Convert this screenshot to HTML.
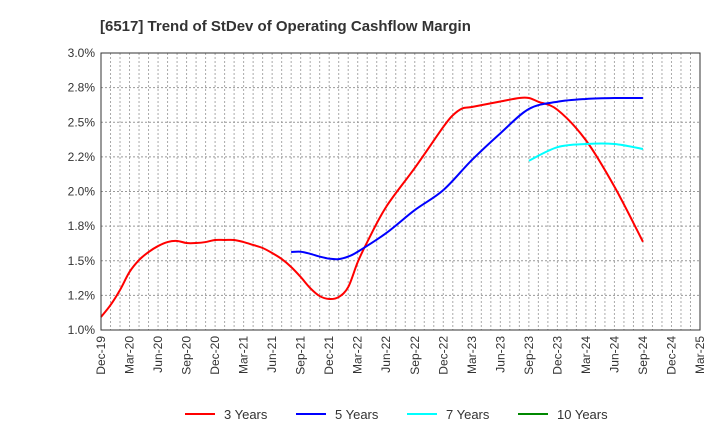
<!DOCTYPE html>
<html><head><meta charset="utf-8"><style>
body{margin:0;background:#fff;font-family:"Liberation Sans",Arial,sans-serif}
</style></head><body>
<svg id="c" width="720" height="440" xmlns="http://www.w3.org/2000/svg">
<text x="100" y="31" font-size="15" font-weight="bold" fill="#333">[6517]  Trend of StDev of Operating Cashflow Margin</text>
<g id="grid"></g><g id="series"></g><g id="axes"></g><g id="legend"></g>
</svg>
<script>
const yTicks=[1.0,1.25,1.5,1.75,2.0,2.25,2.5,2.75,3.0];
const yTickLabels=["1.0%","1.2%","1.5%","1.8%","2.0%","2.2%","2.5%","2.8%","3.0%"];
const xTickLabels=["Dec-19","Mar-20","Jun-20","Sep-20","Dec-20","Mar-21","Jun-21","Sep-21","Dec-21","Mar-22","Jun-22","Sep-22","Dec-22","Mar-23","Jun-23","Sep-23","Dec-23","Mar-24","Jun-24","Sep-24","Dec-24","Mar-25"];
// month index from Dec-19
const red3M=[0,1,2,3,4,5,6,7,8,9,10,11,12,13,14,15,16,17,18,19,20,21,22,23,24,25,26,27,28,30,33,36,37,38,39,42,44,45,46,48,51,54,57];
const red3V=[1.094,1.18,1.289,1.419,1.505,1.563,1.606,1.635,1.643,1.628,1.628,1.635,1.65,1.65,1.65,1.635,1.614,1.592,1.556,1.513,1.455,1.383,1.303,1.245,1.224,1.238,1.31,1.49,1.635,1.89,2.17,2.466,2.55,2.6,2.61,2.65,2.675,2.675,2.648,2.59,2.37,2.035,1.637];
const blue5M=[20,21,22,23,24,25,26,27,30,33,36,39,42,45,48,51,54,57];
const blue5V=[1.563,1.565,1.55,1.53,1.515,1.512,1.53,1.565,1.70,1.866,2.01,2.227,2.42,2.596,2.648,2.668,2.675,2.675];
const cyan7M=[45,48,51,54,57];
const cyan7V=[2.222,2.32,2.343,2.343,2.307];
const green10M=[];const green10V=[];
const L=101,R=700,T=53,B=330,NS="http://www.w3.org/2000/svg";
const xS=m=>L+m*(R-L)/63, yS=v=>B-(v-1)*(B-T)/2;
function mk(t,a,p){const e=document.createElementNS(NS,t);for(const k in a)e.setAttribute(k,a[k]);p.appendChild(e);return e;}
const g=document.getElementById('grid'),ax=document.getElementById('axes'),s=document.getElementById('series'),lg=document.getElementById('legend');
for(let m=1;m<=63;m++){const l=mk('line',{x1:xS(m),x2:xS(m),y1:T,y2:B,stroke:'#aaa','stroke-dasharray':'2,2'},g);

}
yTicks.forEach((v,i)=>{const l=mk('line',{x1:L,x2:R,y1:yS(v),y2:yS(v),stroke:'#999','stroke-dasharray':'2,2'},g);


const t=mk('text',{x:L-6,y:yS(v)+4,'text-anchor':'end','font-size':12,fill:'#333'},ax);t.textContent=yTickLabels[i];

});
xTickLabels.forEach((lab,i)=>{const x=xS(i*3);const t=mk('text',{x:0,y:0,'text-anchor':'end','font-size':12,fill:'#333',transform:`translate(${x+4},${B+6}) rotate(-90)`},ax);t.textContent=lab;

});
const fr=mk('rect',{x:L,y:T,width:R-L,height:B-T,fill:'none',stroke:'#333'},ax);


function path(M,V){const p=M.map((m,i)=>[xS(m),yS(V[i])]);if(!p.length)return '';let d=`M${p[0][0]},${p[0][1]}`;
for(let i=0;i<p.length-1;i++){const p0=p[i-1]||p[i],p1=p[i],p2=p[i+1],p3=p[i+2]||p2;
d+=`C${p1[0]+(p2[0]-p0[0])/6},${p1[1]+(p2[1]-p0[1])/6} ${p2[0]-(p3[0]-p1[0])/6},${p2[1]-(p3[1]-p1[1])/6} ${p2[0]},${p2[1]}`;}return d;}
const ser=[[red3M,red3V,'#f00','3 Years','series-3-years'],[blue5M,blue5V,'#00f','5 Years','series-5-years'],[cyan7M,cyan7V,'#0ff','7 Years','series-7-years'],[green10M,green10V,'#080','10 Years','series-10-years']];
ser.forEach((q,i)=>{if(q[0].length){const p=mk('path',{d:path(q[0],q[1]),fill:'none',stroke:q[2],'stroke-width':2},s);

}
const lx=185+i*111;
const gg=mk('g',{},lg);


mk('line',{x1:lx,x2:lx+30,y1:414,y2:414,stroke:q[2],'stroke-width':2},gg);
const t=mk('text',{x:lx+39,y:419,'font-size':13,fill:'#333'},gg);t.textContent=q[3];});
</script>
</body></html>
